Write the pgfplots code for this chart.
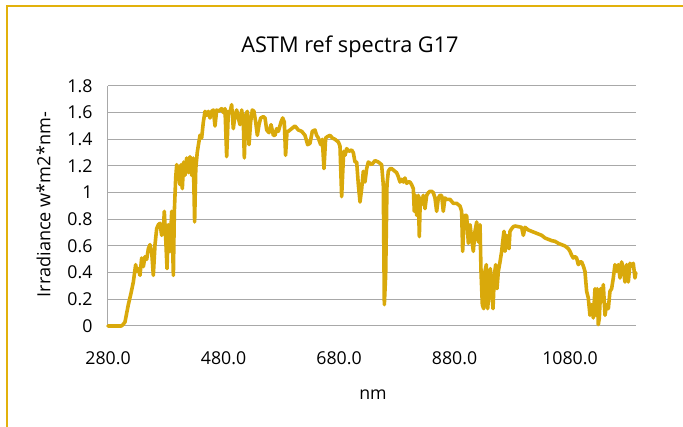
\documentclass[border=0pt]{standalone}
\usepackage{fontspec}
\setmainfont{Open Sans}
\usepackage{pgfplots}
\pgfplotsset{compat=1.18}
\definecolor{gold}{HTML}{D9A90B}
\definecolor{bordergold}{HTML}{E2B10C}
\definecolor{gridgray}{HTML}{A8A8A8}
\begin{document}
\begin{tikzpicture}
\path[use as bounding box] (0,0) rectangle (512.25pt,320.25pt);
\draw[bordergold, line width=1.5pt] (5.6pt,-2pt) -- (5.6pt,316.1pt) -- (514pt,316.1pt);
\begin{axis}[
  at={(81pt,75.75pt)}, anchor=south west,
  scale only axis, width=396pt, height=180pt,
  xmin=280, xmax=1194.3, ymin=0, ymax=1.8,
  clip=false,
  xtick={280,480,680,880,1080},
  xticklabels={280.0,480.0,680.0,880.0,1080.0},
  ytick={0,0.2,0.4,0.6,0.8,1,1.2,1.4,1.6,1.8},
  yticklabels={0,0.2,0.4,0.6,0.8,1,1.2,1.4,1.6,1.8},
  ymajorgrids, grid style={gridgray, line width=0.75pt},
  separate axis lines,
  axis x line*=bottom, axis y line*=left,
  x axis line style={draw=none},
  y axis line style={gridgray, line width=0.75pt, -},
  major tick length=0pt,
  tick style={draw=none},
  ticklabel style={font=\fontsize{13.3}{15}\selectfont},
  yticklabel style={inner sep=0pt, anchor=east, xshift=-11.5pt},
  xticklabel style={inner sep=0pt, anchor=north, yshift=-19.3pt},
  title={ASTM ref spectra G17},
  title style={at={(axis description cs:0.4583,1.108)}, anchor=base, font=\fontsize{16.3}{19}\selectfont},
  xlabel={nm},
  every axis x label/.style={at={(axis description cs:0.5019,-0.2875)}, anchor=center, font=\fontsize{13.3}{15}\selectfont},
  ylabel={Irradiance w*m2*nm-},
  every axis y label/.style={at={(axis description cs:-0.1222,0.506)}, rotate=90, anchor=center, font=\fontsize{13.6}{15}\selectfont},
]
\addplot[gold, line width=2.7pt, line join=round, line cap=round] coordinates {
(280,0) (295,0) (303,0) (306,0.01) (309.4,0.03) (315.2,0.16) (319.8,0.245) (323.9,0.33) (327.9,0.46) (329.7,0.41) (332.5,0.43) (335.4,0.38) (338.3,0.51) (341.2,0.445) (344.1,0.52) (347,0.5) (349.9,0.58) (352.7,0.61) (355.6,0.56) (358.5,0.38) (361.4,0.61) (364.3,0.73) (367.2,0.76) (370,0.77) (372.9,0.68) (375.8,0.71) (377.5,0.86) (379.9,0.66) (382.2,0.43) (384.5,0.76) (387.4,0.56) (390.3,0.86) (393.2,0.38) (394.9,0.86) (397.2,1.11) (399,1.21) (401.8,1.16) (404.7,1.06) (406.4,1.21) (408.7,1.03) (411,1.23) (413.3,1.13) (416.2,1.26) (419.1,1.15) (422,1.27) (424.9,1.13) (427.7,1.26) (430,0.78) (432,1.18) (434.5,1.30) (437,1.37) (439.3,1.43) (442.2,1.41) (445.1,1.53) (448,1.61) (450.9,1.58) (453.7,1.61) (456.6,1.56) (459.5,1.61) (462.4,1.62) (465.3,1.5) (468.2,1.62) (471.1,1.61) (474,1.62) (476.8,1.63) (479.7,1.6) (482.6,1.63) (485.5,1.27) (488.4,1.61) (491.3,1.6) (494.1,1.66) (497,1.48) (499.9,1.58) (502.8,1.62) (505.7,1.56) (508.6,1.51) (511.5,1.62) (514.3,1.53) (516.1,1.26) (518.4,1.58) (521.3,1.61) (524.2,1.36) (527,1.53) (529.9,1.62) (532.8,1.61) (535.7,1.53) (538.6,1.43) (541.5,1.51) (544.4,1.56) (549,1.57) (551.9,1.56) (554.8,1.47) (558.8,1.45) (562.3,1.51) (566.3,1.43) (569.2,1.43) (572.1,1.48) (575,1.46) (579.6,1.53) (582.5,1.56) (585.3,1.53) (587.5,1.28) (590,1.46) (592.3,1.46) (598,1.48) (603.8,1.5) (609.6,1.47) (615.4,1.46) (621.1,1.43) (625.7,1.36) (629.8,1.37) (633.8,1.46) (638.4,1.47) (641.3,1.43) (644.2,1.41) (648.3,1.36) (651.1,1.4) (654,1.18) (656.9,1.41) (659.8,1.42) (664.4,1.43) (668.5,1.41) (673.1,1.4) (678.9,1.38) (681.7,1.35) (684.6,0.97) (688.1,1.31) (690.4,1.28) (693.3,1.33) (697.3,1.31) (701.9,1.32) (704.8,1.3) (707.7,1.23) (710.6,1.23) (713.5,1.06) (716.4,0.93) (719.3,1.03) (722.1,1.16) (725,1.08) (727.9,1.18) (730.8,1.23) (736.6,1.21) (742.3,1.24) (748,1.23) (753.8,1.21) (756.7,1.06) (758.5,0.16) (760.8,0.38) (763.1,1.06) (765.4,1.16) (768.3,1.18) (771.2,1.18) (774,1.17) (776.9,1.16) (779.8,1.15) (782.7,1.12) (785.6,1.08) (788.5,1.1) (791.4,1.08) (794.2,1.11) (797.1,1.07) (800,1.08) (802.9,1.08) (805.8,1.06) (808.7,1.03) (810.4,0.86) (812.7,0.98) (814.5,0.83) (817.3,0.98) (819.1,0.67) (820.8,0.96) (823.1,0.91) (826,0.98) (828.9,0.88) (831.8,0.98) (834.7,1.0) (837.5,1.01) (840.4,1.01) (843.3,1.0) (846.2,0.96) (849.1,0.86) (852,0.96) (854.9,0.98) (857.7,0.98) (860.6,0.86) (863.5,0.96) (866.4,0.95) (872.2,0.95) (877.9,0.92) (883.7,0.92) (889.5,0.9) (892.4,0.86) (894.1,0.56) (895.8,0.71) (898.1,0.83) (901,0.83) (904,0.62) (906.9,0.76) (909.7,0.66) (912.6,0.56) (915.5,0.71) (918.4,0.78) (921.3,0.63) (924.2,0.76) (925.9,0.41) (928.2,0.16) (930.5,0.13) (932.8,0.41) (935.1,0.46) (937.4,0.13) (939.8,0.26) (942.1,0.43) (944.4,0.26) (946.7,0.13) (949,0.38) (951.3,0.46) (953.6,0.28) (955.9,0.41) (958.8,0.48) (961.7,0.56) (963.4,0.63) (965.7,0.71) (967.5,0.56) (970.4,0.68) (972.1,0.66) (974.4,0.58) (976.1,0.71) (979,0.73) (981.9,0.745) (984.8,0.75) (990.6,0.745) (996.3,0.74) (999.2,0.68) (1002.1,0.74) (1007.9,0.72) (1013.6,0.71) (1019.4,0.70) (1025.2,0.69) (1031,0.68) (1036.7,0.66) (1042.5,0.65) (1048.3,0.64) (1054,0.635) (1059.8,0.62) (1065.5,0.61) (1071.3,0.6) (1077.1,0.58) (1080,0.56) (1082.9,0.53) (1085.7,0.51) (1088.6,0.52) (1091.5,0.51) (1094.4,0.46) (1097.3,0.48) (1100.2,0.48) (1103.1,0.45) (1105.9,0.41) (1108.8,0.26) (1111.7,0.21) (1114.6,0.08) (1117.5,0.16) (1120.4,0.06) (1123.3,0.28) (1125,0.08) (1127.3,0.28) (1129,0.01) (1130.8,0.06) (1133.1,0.28) (1134.8,0.18) (1137.7,0.31) (1140.6,0.08) (1143.5,0.16) (1146.4,0.13) (1149.2,0.26) (1152.1,0.28) (1155,0.36) (1157.9,0.46) (1160.8,0.41) (1163.7,0.46) (1166.6,0.36) (1169.4,0.48) (1172.3,0.43) (1175.2,0.33) (1178.1,0.46) (1181,0.33) (1183.9,0.47) (1186.8,0.45) (1189.6,0.47) (1192.5,0.36) (1194,0.40)
};
\end{axis}
\end{tikzpicture}
\end{document}
